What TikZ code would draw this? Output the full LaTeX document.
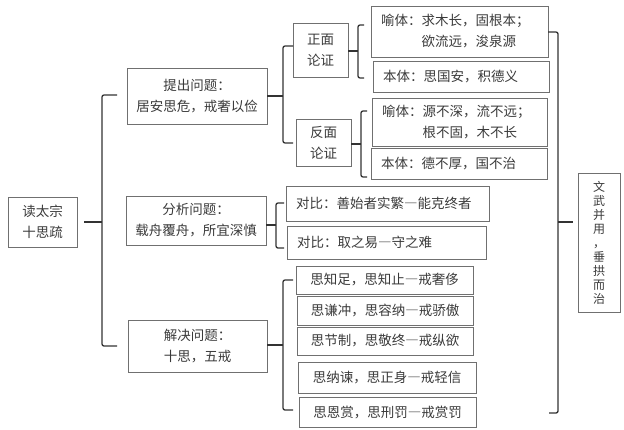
\documentclass[tikz,border=0pt]{standalone}
\usepackage{fontspec}
\setmainfont{Noto Sans CJK SC}
\usepackage{tikz}
\definecolor{boxgray}{HTML}{707070}
\definecolor{linegray}{HTML}{333333}
\definecolor{textgray}{HTML}{3A3A3A}
\newcommand{\longdash}{{\addfontfeatures{RawFeature=+fwid}—}}

\begin{document}
\begin{tikzpicture}[x=1pt, y=-1pt,
        box/.style = {draw = boxgray, line width = 0.7pt, text = textgray,
            font = \fontsize{13.5}{21}\selectfont, inner sep = 0pt, align = center},
        leftbox/.style = {box, align = left, inner xsep = 10pt, inner ysep = 0pt},
        brace/.style = {draw = linegray, line width = 1.3pt, rounded corners = 2pt}]
        \useasboundingbox (0,0) rectangle (624,429);

        \node (root_box)[box, minimum width = 69pt, minimum height = 50pt]
        at (42.5,222) {读太宗\\十思疏};

        \node (tichu_box)[box, minimum width = 140pt, minimum height = 56pt]
        at (197,96) {提出问题：\\居安思危，戒奢以俭};
        \node (fenxi_box)[box, minimum width = 140pt, minimum height = 49pt]
        at (196,220.5) {分析问题：\\载舟覆舟，所宜深慎};
        \node (jiejue_box)[box, minimum width = 139pt, minimum height = 52pt]
        at (197.5,346) {解决问题：\\十思，五戒};

        \node (zheng_box)[box, minimum width = 55pt, minimum height = 54pt]
        at (320.5,50) {正面\\论证};
        \node (fan_box)[box, minimum width = 55pt, minimum height = 47pt]
        at (323.5,142.5) {反面\\论证};

        \node (yu1_box)[leftbox, text width = 157pt, minimum height = 51pt]
        at (459.5,31.5) {喻体：求木长，固根本；\\\phantom{喻体：}欲流远，浚泉源};
        \node (ben1_box)[leftbox, text width = 156pt, minimum height = 31pt]
        at (461,76.5) {本体：思国安，积德义};
        \node (yu2_box)[leftbox, text width = 155pt, minimum height = 48pt]
        at (459.5,122) {喻体：源不深，流不远；\\\phantom{喻体：}根不固，木不长};
        \node (ben2_box)[leftbox, text width = 156pt, minimum height = 31pt]
        at (459,163.5) {本体：德不厚，国不治};

        \node (db1_box)[leftbox, text width = 183pt, minimum height = 35pt]
        at (387.5,203.5) {对比：善始者实繁\longdash 能克终者};
        \node (db2_box)[leftbox, text width = 179pt, minimum height = 33pt]
        at (386.5,242.5) {对比：取之易\longdash 守之难};

        \node (si1_box)[box, minimum width = 177pt, minimum height = 28pt]
        at (384.5,280) {思知足，思知止\longdash 戒奢侈};
        \node (si2_box)[box, minimum width = 176pt, minimum height = 29pt]
        at (385,310.5) {思谦冲，思容纳\longdash 戒骄傲};
        \node (si3_box)[box, minimum width = 176pt, minimum height = 28pt]
        at (385,341) {思节制，思敬终\longdash 戒纵欲};
        \node (si4_box)[box, minimum width = 178pt, minimum height = 31pt]
        at (387,377.5) {思纳谏，思正身\longdash 戒轻信};
        \node (si5_box)[box, minimum width = 177pt, minimum height = 30pt]
        at (387.5,412) {思恩赏，思刑罚\longdash 戒赏罚};

        \node (sum_box)[box, minimum width = 42pt, minimum height = 139pt,
            font = \fontsize{12}{14}\selectfont]
        at (599,242.5) {文\\武\\并\\用\\，\\垂\\拱\\而\\治};

        % bracket joints
        \coordinate (root_join) at (102,222);
        \coordinate (root_top) at (117,95);
        \coordinate (root_bot) at (117,346);
        \coordinate (tichu_join) at (283,96);
        \coordinate (tichu_top) at (293,46);
        \coordinate (tichu_bot) at (293,143);
        \coordinate (zheng_join) at (358,51);
        \coordinate (zheng_top) at (364,25);
        \coordinate (zheng_bot) at (364,78);
        \coordinate (fan_join) at (361,144);
        \coordinate (fan_top) at (367,111);
        \coordinate (fan_bot) at (367,177);
        \coordinate (fenxi_join) at (276,225);
        \coordinate (fenxi_top) at (284,203);
        \coordinate (fenxi_bot) at (284,248);
        \coordinate (jiejue_join) at (283,345);
        \coordinate (jiejue_top) at (293,280);
        \coordinate (jiejue_bot) at (293,410);
        \coordinate (sum_join) at (558,222);
        \coordinate (sum_top) at (548,32);
        \coordinate (sum_bot) at (549,413);

        % brackets
        \path[brace] (root_box.east) edge[shorten <= 7pt] (root_join);
        \path[brace] (root_top) -| (root_join) |- (root_bot);
        \path[brace] (tichu_box.east) edge (tichu_join);
        \path[brace] (tichu_top) -| (tichu_join) |- (tichu_bot);
        \path[brace] (zheng_box.east |- zheng_join) edge (zheng_join);
        \path[brace] (zheng_top) -| (zheng_join) |- (zheng_bot);
        \path[brace] (fan_box.east |- fan_join) edge (fan_join);
        \path[brace] (fan_top) -| (fan_join) |- (fan_bot);
        \path[brace] (fenxi_box.east |- fenxi_join) edge (fenxi_join);
        \path[brace] (fenxi_top) -| (fenxi_join) |- (fenxi_bot);
        \path[brace] (jiejue_box.east |- jiejue_join) edge (jiejue_join);
        \path[brace] (jiejue_top) -| (jiejue_join) |- (jiejue_bot);
        \path[brace] (sum_top) -| (sum_join) |- (sum_bot);
        \path[brace] (sum_join) edge[shorten >= 5pt] (sum_join -| sum_box.west);
    \end{tikzpicture}
\end{document}
